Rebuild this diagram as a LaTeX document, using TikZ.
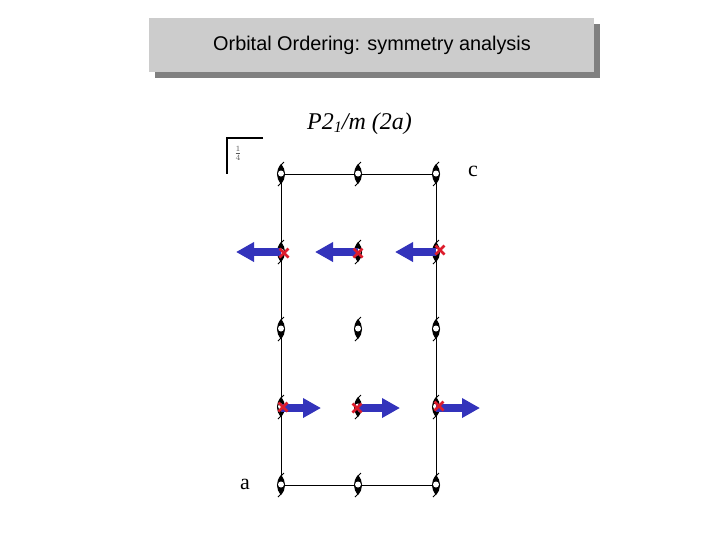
\documentclass[tikz,border=0pt]{standalone}
\usepackage{fontspec}
\setmainfont{Liberation Serif}
\newfontfamily\arialf{Liberation Sans}
\usetikzlibrary{arrows.meta}
\definecolor{boxgray}{HTML}{CCCCCC}
\definecolor{shadowgray}{HTML}{808080}
\definecolor{arrowblue}{HTML}{3333BB}
\definecolor{crossred}{HTML}{DD1C2C}
\tikzset{
  cell/.style={draw=black,line width=0.75pt},
  spin/.style={draw=arrowblue,line width=5.8pt,-{Triangle[length=13.5pt,width=14pt,fill=arrowblue]}},
  axis/.style={font=\fontsize{16.5}{18}\selectfont,inner sep=0pt},
  rmark/.style={draw=crossred,line width=2pt},
  screw/.pic={
    \fill[black] (0,-10) .. controls (-5.4,-4) and (-5.4,4) .. (0,10)
                 .. controls (5.4,4) and (5.4,-4) .. (0,-10) -- cycle;
    \draw[black,line width=0.7pt] (0,-9) .. controls (1,-10.5) .. (3,-12);
    \draw[black,line width=0.7pt] (0,9) .. controls (-1,10.5) .. (-3,12);
    \fill[white] (0,-0.5) circle (3);
  },
  xmark/.pic={
    \draw[rmark] (-4.5,-4.5) -- (4.5,4.5) (-4.5,4.5) -- (4.5,-4.5);
  }
}
\begin{document}
\begin{tikzpicture}[x=0.75pt,y=-0.75pt]
\useasboundingbox (0,0) rectangle (720,540);
% title
\fill[shadowgray] (155,24) rectangle (600,78);
\fill[boxgray] (149,18) rectangle (594,72);
\node[inner sep=0pt,font=\arialf\fontsize{14.9}{18}\selectfont] (title) at (372,45) {Orbital Ordering: symmetry analysis};
\node[inner sep=0pt,font=\fontsize{18}{21}\itshape\selectfont] (group) at (359.5,123.5) {P2\raisebox{-2.4pt}{\fontsize{12}{13}\selectfont 1}/m (2a)};
% legend corner
\coordinate (lega) at (263,138);
\coordinate (legb) at (227,138);
\coordinate (legc) at (227,174);
\draw[black,line width=1pt] (lega) -- (legb) -- (legc);
\node[inner sep=0pt,font=\fontsize{9}{10}\selectfont,gray!70!black] (quarter) at (238,153.5) {$\frac{1}{4}$};
% lattice sites
\foreach \cx/\nx in {281/l,358/m,436/r}
  \foreach \cy/\ny in {174/a,252/b,329/c,407/d,485/e}
    \coordinate (\nx\ny) at (\cx,\cy);
\draw[cell] (la) -- (ra) -- (re) -- (le) -- cycle;
\foreach \s in {la,ma,ra,lb,mb,rb,lc,mc,rc,ld,md,rd,le,me,re}
  \pic at (\s) {screw};
% spin arrows
\coordinate (t1) at (236,252);
\coordinate (t2) at (315,252);
\coordinate (t3) at (395,252);
\coordinate (t4) at (321,408);
\coordinate (t5) at (400,408);
\coordinate (t6) at (480,408);
\draw[spin] (lb) -- (t1);
\draw[spin] (mb) -- (t2);
\draw[spin] (rb) -- (t3);
\draw[spin] (ld) ++(0,1) -- (t4);
\draw[spin] (md) ++(0,1) -- (t5);
\draw[spin] (rd) ++(0,1) -- (t6);
% red crosses
\pic at (284,253) {xmark};
\pic at (358,253) {xmark};
\pic at (440,250) {xmark};
\pic at (283,407) {xmark};
\pic at (357,408) {xmark};
\pic at (439,406) {xmark};
\node[axis] (cl) at (473,171.5) {c};
\node[axis] (al) at (245,484.5) {a};
\end{tikzpicture}
\end{document}
